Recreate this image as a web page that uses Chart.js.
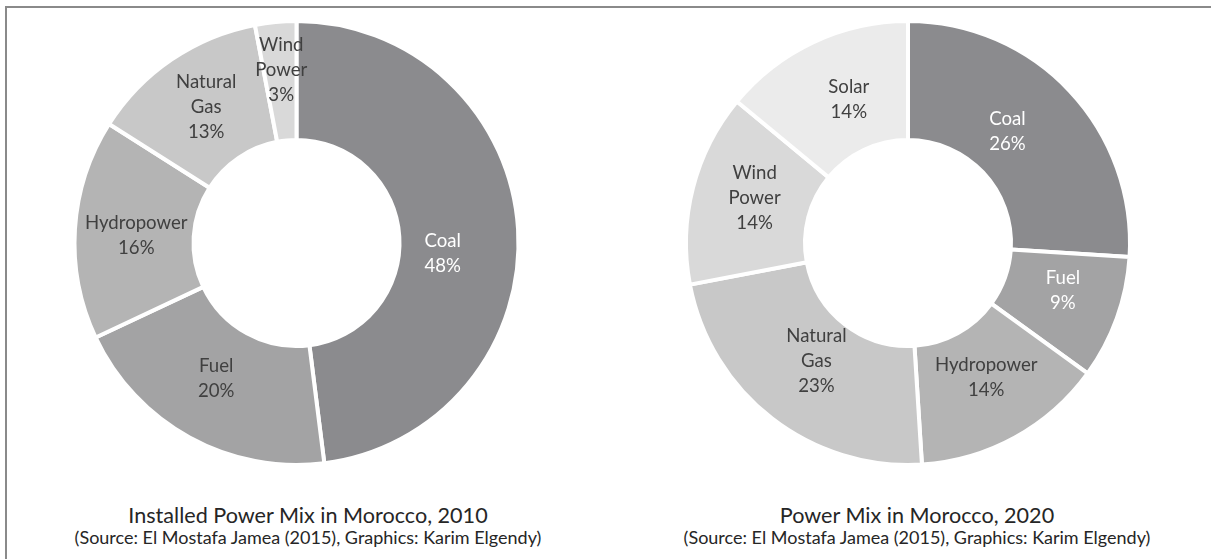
<!DOCTYPE html>
<html>
<head>
<meta charset="utf-8">
<script src="https://cdn.jsdelivr.net/npm/chart.js@4.4.1/dist/chart.umd.min.js"></script>
<style>
    html, body { margin: 0; padding: 0; background: #fff; }
    body { width: 1211px; height: 559px; position: relative; overflow: hidden; font-family: Lato, sans-serif; }
    .frame { position: absolute; left: 5px; top: 6px; right: -10px; bottom: -10px; border-left: 2px solid #8a8a8a; border-top: 2px solid #8a8a8a; }
    .chart-box { position: absolute; top: 0; height: 480px; }
    .caption { position: absolute; width: 560px; text-align: center; color: #262626; white-space: nowrap; }
    .caption .title { font-size: 21.6px; line-height: 24px; }
    .caption .source { font-size: 18px; line-height: 20px; }
</style>
</head>
<body>
<div class="frame"></div>
<div class="chart-box" style="left:0; width:593px;"><canvas id="chart2010"></canvas></div>
<div class="chart-box" style="left:611px; width:594px;"><canvas id="chart2020"></canvas></div>
<div class="caption" style="left:28px; top:503px;">
    <div class="title">Installed Power Mix in Morocco, 2010</div>
    <div class="source">(Source: El Mostafa Jamea (2015), Graphics: Karim Elgendy)</div>
</div>
<div class="caption" style="left:637px; top:503px;">
    <div class="title">Power Mix in Morocco, 2020</div>
    <div class="source">(Source: El Mostafa Jamea (2015), Graphics: Karim Elgendy)</div>
</div>
<script>
// --- Data ---
const sources2010 = ['Coal', 'Fuel', 'Hydropower', 'Natural Gas', 'Wind Power'];
const shares2010 = [48, 20, 16, 13, 3];

const sources2020 = ['Coal', 'Fuel', 'Hydropower', 'Natural Gas', 'Wind Power', 'Solar'];
const shares2020 = [26, 9, 14, 23, 14, 14];

// greys per energy source
const sourceColors = {
    'Coal': '#8b8b8e',
    'Fuel': '#a3a3a4',
    'Hydropower': '#b4b4b4',
    'Natural Gas': '#c8c8c8',
    'Wind Power': '#d9d9d9',
    'Solar': '#ebebeb'
};

// Draws "name / xx%" inside each slice, around the slice's mid point
const sliceLabels = {
    id: 'sliceLabels',
    afterDatasetsDraw(chart, args, opts) {
        const ctx = chart.ctx;
        const meta = chart.getDatasetMeta(0);
        const lineH = 25;
        ctx.save();
        ctx.font = '18.6px Lato';
        ctx.textAlign = 'center';
        ctx.textBaseline = 'middle';
        meta.data.forEach((arc, i) => {
            const p = arc.tooltipPosition(true);
            const nudge = opts.nudge[i] || [0, 0];
            const lines = chart.data.labels[i].split(' ');
            lines.push(chart.data.datasets[0].data[i] + '%');
            ctx.fillStyle = opts.light.includes(i) ? '#ffffff' : '#404040';
            const top = p.y + nudge[1] - (lines.length - 1) * lineH / 2;
            lines.forEach((t, k) => ctx.fillText(t, p.x + nudge[0], top + k * lineH));
        });
        ctx.restore();
    }
};

function makeDoughnut(id, labels, values, nudge, light) {
    return new Chart(document.getElementById(id), {
        type: 'doughnut',
        data: {
            labels: labels,
            datasets: [{
                data: values,
                backgroundColor: labels.map(l => sourceColors[l]),
                borderColor: '#ffffff',
                borderWidth: 4,
                hoverOffset: 0
            }]
        },
        options: {
            responsive: true,
            maintainAspectRatio: false,
            animation: false,
            cutout: '46.4%',
            layout: { padding: { top: 19, bottom: 13 } },
            events: [],
            plugins: {
                legend: { display: false },
                tooltip: { enabled: false },
                sliceLabels: { nudge: nudge, light: light }
            }
        },
        plugins: [sliceLabels]
    });
}

makeDoughnut('chart2010', sources2010, shares2010,
    [[-16, 21], [-2, -7], [2, 3], [1, -2], [0, -11]], [0]);
makeDoughnut('chart2020', sources2020, shares2020,
    [[-19, 0], [2, -8], [0, -8], [8, -10], [4, -5], [10, 4]], [0, 1]);
</script>
</body>
</html>
